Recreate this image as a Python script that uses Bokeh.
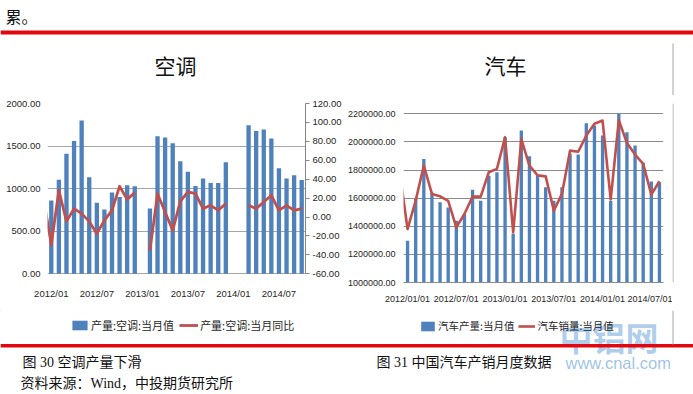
import numpy as np
from bokeh.plotting import figure
from bokeh.models import Range1d, LinearAxis, FixedTicker, NumeralTickFormatter, Legend, LegendItem
from bokeh.layouts import column, row
from bokeh.core.properties import value
from bokeh.embed import file_html
from bokeh.resources import INLINE

# ---------------------------------------------------------------- data
# 空调 chart: months 2012/01 .. 2014/10
ac_months = [f"{y}/{m:02d}" for y in (2012, 2013, 2014) for m in range(1, 13)][:34]
ac_tick_labels = ["2012/01", "2012/07", "2013/01", "2013/07", "2014/01", "2014/07"]
ac_prod = [860, 1105, 1410, 1560, 1800, 1133, 835, 756, 956, 901, 1039, 1027,
           None, 768, 1615, 1600, 1533, 1321, 1200, 1031, 1118, 1066, 1066, 1309,
           None, None, 1745, 1678, 1694, 1588, 1239, 1118, 1157, 1101]
ac_yoy_prev = 19.0   # 2011/12 value, only its segment into the plot is visible
ac_yoy = [-29.3, 28.3, -4.6, 8.9, 3.6, -4.6, -17.6, -3.5, 7.1, 32.5, 18.7, 25.8,
          None, -35.3, 24.7, 5.3, -14.0, 16.6, 26.5, 24.7, 8.9, 12.4, 7.1, 14.2,
          None, None, 12.4, 8.9, 15.9, 23.0, 7.1, 12.4, 7.1, 8.9]
ac_left_ticks = [0, 500, 1000, 1500, 2000]
ac_right_ticks = [-60, -40, -20, 0, 20, 40, 60, 80, 100, 120]

# 汽车 chart: months 2012/01 .. 2014/08
car_months = [f"{y}/{m:02d}/01" for y in (2012, 2013, 2014) for m in range(1, 13)][:32]
car_tick_labels = ["2012/01/01", "2012/07/01", "2013/01/01", "2013/07/01", "2014/01/01", "2014/07/01"]
car_prod = [1297000, 1594000, 1879000, 1640000, 1570000, 1534000, 1440000, 1487000,
            1660000, 1582000, 1760000, 1784000,
            2033000, 1347000, 2081000, 1898000, 1760000, 1677000, 1582000, 1677000,
            1915000, 1910000, 2133000, 2117000,
            2045000, 1580000, 2200000, 2069000, 1974000, 1852000, 1718000, 1713000]
car_sales_prev = 1800000   # 2011/12 value, only its segment into the plot is visible
car_sales = [1380000, 1582000, 1832000, 1630000, 1613000, 1580000, 1392000, 1487000,
             1611000, 1611000, 1784000, 1808000,
             2033000, 1356000, 2020000, 1832000, 1762000, 1755000, 1511000, 1630000,
             1938000, 1930000, 2045000, 2129000,
             2152000, 1590000, 2155000, 1992000, 1910000, 1844000, 1625000, 1720000]
car_ticks = [1000000, 1200000, 1400000, 1600000, 1800000, 2000000, 2200000]

# ---------------------------------------------------------------- styles
BLUE = "#4F81BD"
RED = "#C0504D"
PAGE_RED = "#E2070F"
TICK_FONT = "Liberation Sans"
CJK = "Noto Sans CJK SC"
CAP_FONT = "Liberation Serif, Noto Sans CJK SC"
TXT = "#262626"
WM = "#8DB8E2"
BORDER = "#A6A6A6"


def nan_list(vals):
    return np.array([np.nan if v is None else v for v in vals], dtype=float)


def clean(p):
    p.outline_line_color = None
    p.background_fill_color = "white"
    p.border_fill_color = "white"


def style_axis(ax, size="9.5px"):
    ax.major_label_text_font = TICK_FONT
    ax.major_label_text_font_size = size
    ax.major_label_text_color = TXT
    ax.minor_tick_line_color = None
    ax.major_tick_in = 0


PAGE_W = 693
ROW_TOP, ROW_BOT = 95, 310

# ---------------------------------------------------------------- header (page y 0..95)
head = figure(width=PAGE_W, height=ROW_TOP, x_range=Range1d(0, 693), y_range=Range1d(ROW_TOP, 0),
              x_axis_location=None, y_axis_location=None, min_border=0,
              output_backend="svg", toolbar_location=None)
clean(head)
head.grid.visible = False
head.text(x=[5], y=[3], text=["累。"], text_font=value(CJK), text_font_size=value("16px"),
          text_baseline="top", text_align="left", text_color="#111111")
head.quad(left=[0], right=[693], top=[30.0], bottom=[34.0], color=PAGE_RED, line_color=None)
head.text(x=[175, 505], y=[64, 64.5], text=["空调", "汽车"], text_font=value(CJK),
          text_font_size=value("21px"), text_baseline="middle", text_align="center",
          text_color="#111111")
head.segment(x0=[672.5], y0=[43], x1=[672.5], y1=[ROW_TOP], line_color=BORDER, line_width=1)

# both chart figures share identical top/bottom borders (frame page y 103..282)
CH_H = ROW_BOT - ROW_TOP
B_TOP = 8
B_BOT = 28

# ---------------------------------------------------------------- 空调 chart
pL = figure(width=344, height=CH_H, x_range=Range1d(-0.5, len(ac_months) - 0.5),
            y_range=Range1d(-102, 2000), min_border_left=47, min_border_right=39,
            min_border_top=B_TOP, min_border_bottom=B_BOT,
            output_backend="svg", toolbar_location=None)
clean(pL)
pL.extra_y_ranges = {"pct": Range1d(-69.2, 120)}
pL.xgrid.visible = False
pL.ygrid.grid_line_color = "#A6A6A6"
pL.ygrid.ticker = FixedTicker(ticks=ac_left_ticks)

yl = pL.yaxis[0]
yl.ticker = FixedTicker(ticks=ac_left_ticks)
yl.formatter = NumeralTickFormatter(format="0.00")
style_axis(yl)
yl.axis_line_color = None
yl.major_tick_line_color = None
yl.major_tick_out = 0
yl.major_label_standoff = 7

xl = pL.xaxis[0]
ac_tick_pos = [ac_months.index(t) for t in ac_tick_labels]
xl.ticker = FixedTicker(ticks=ac_tick_pos)
xl.major_label_overrides = {i: t for i, t in zip(ac_tick_pos, ac_tick_labels)}
style_axis(xl)
xl.axis_line_color = None
xl.major_tick_line_color = None
xl.major_tick_out = 0
xl.major_label_standoff = 5

yr = LinearAxis(y_range_name="pct", ticker=FixedTicker(ticks=ac_right_ticks),
                formatter=NumeralTickFormatter(format="0.00"), bounds=(-60, 120))
style_axis(yr)
yr.axis_line_color = "#868686"
yr.major_tick_line_color = "#868686"
yr.major_tick_out = 4
yr.major_label_standoff = 3
pL.add_layout(yr, "right")

ac_bar_x = [i for i, v in enumerate(ac_prod) if v is not None]
ac_bar_top = [v for v in ac_prod if v is not None]
pL.vbar(x=ac_bar_x, top=ac_bar_top, bottom=0, width=0.57, fill_color=BLUE, line_color=None)
ac_line_x = np.arange(-1, len(ac_months))
ac_line_y = np.concatenate([[ac_yoy_prev], nan_list(ac_yoy)])
pL.line(x=ac_line_x, y=ac_line_y, y_range_name="pct", line_color=RED, line_width=2.8,
        line_join="round")

# ---------------------------------------------------------------- 汽车 chart
pR = figure(width=328, height=CH_H, x_range=Range1d(-0.5, len(car_months) - 0.5),
            y_range=Range1d(1000000, 2273000), min_border_left=56, min_border_right=9,
            min_border_top=B_TOP, min_border_bottom=B_BOT,
            output_backend="svg", toolbar_location=None)
clean(pR)
pR.xgrid.visible = False
pR.ygrid.grid_line_color = "#8C8C8C"
pR.ygrid.ticker = FixedTicker(ticks=car_ticks)

ya = pR.yaxis[0]
ya.ticker = FixedTicker(ticks=car_ticks)
ya.formatter = NumeralTickFormatter(format="0.00")
style_axis(ya, "9px")
ya.axis_line_color = None
ya.major_tick_line_color = None
ya.major_tick_out = 0
ya.major_label_standoff = 8

xa = pR.xaxis[0]
car_tick_pos = [car_months.index(t) for t in car_tick_labels]
xa.ticker = FixedTicker(ticks=car_tick_pos)
xa.major_label_overrides = {i: t for i, t in zip(car_tick_pos, car_tick_labels)}
style_axis(xa, "9px")
xa.axis_line_color = "#8C8C8C"
xa.major_tick_line_color = None
xa.major_tick_out = 0
xa.major_label_standoff = 11

pR.vbar(x=list(range(len(car_prod))), top=car_prod, bottom=1000000, width=0.41,
        fill_color=BLUE, line_color=None)
car_line_x = np.arange(-1, len(car_months))
car_line_y = np.array([car_sales_prev] + car_sales, dtype=float)
pR.line(x=car_line_x, y=car_line_y, line_color=RED, line_width=2.6, line_join="round")

# ---------------------------------------------------------------- right border sliver
side = figure(width=21, height=CH_H, x_range=Range1d(672, 693), y_range=Range1d(ROW_BOT, ROW_TOP),
              x_axis_location=None, y_axis_location=None, min_border=0,
              output_backend="svg", toolbar_location=None)
clean(side)
side.grid.visible = False
side.segment(x0=[672.5], y0=[ROW_TOP], x1=[672.5], y1=[ROW_BOT], line_color=BORDER, line_width=1)

# ---------------------------------------------------------------- footer (page y 310..394)
foot = figure(width=PAGE_W, height=394 - ROW_BOT, x_range=Range1d(0, 693),
              y_range=Range1d(394, ROW_BOT),
              x_axis_location=None, y_axis_location=None, min_border=0,
              output_backend="svg", toolbar_location=None)
clean(foot)
foot.grid.visible = False

# watermark
foot.text(x=[559], y=[336], text=["中铝网"], text_font=value(CJK), text_font_size=value("33px"),
          text_font_style="bold", text_baseline="middle", text_align="left",
          text_color=WM, text_alpha=0.7)
foot.text(x=[565], y=[362], text=["www.cnal.com"], text_font=value(TICK_FONT),
          text_font_size=value("16.5px"), text_baseline="middle", text_align="left",
          text_color=WM, text_alpha=0.85)

foot.quad(left=[0], right=[693], top=[343.5], bottom=[347.0], color=PAGE_RED, line_color=None)
foot.segment(x0=[672.5], y0=[ROW_BOT], x1=[672.5], y1=[344], line_color=BORDER, line_width=1)

foot.text(x=[22, 376], y=[362, 362], text=["图 30 空调产量下滑", "图 31 中国汽车产销月度数据"],
          text_font=value(CAP_FONT), text_font_size=value("14px"), text_baseline="middle",
          text_align="left", text_color="#111111")
foot.text(x=[20], y=[383], text=["资料来源：Wind，中投期货研究所"],
          text_font=value(CAP_FONT), text_font_size=value("14px"), text_baseline="middle",
          text_align="left", text_color="#111111")

# legend swatches (one hidden point each so that the swatch gets drawn)
lg_bar_l = foot.vbar(x=[-50], top=[300], bottom=[300], width=1, fill_color=BLUE, line_color=None)
lg_line_l = foot.line(x=[-60, -50], y=[300, 300], line_color=RED, line_width=2.8)
lg_bar_r = foot.vbar(x=[-50], top=[300], bottom=[300], width=1, fill_color=BLUE, line_color=None)
lg_line_r = foot.line(x=[-60, -50], y=[300, 300], line_color=RED, line_width=2.6)


def make_legend(items, loc, spacing, glyph_w=19, size="11px"):
    return Legend(items=items, location=loc, orientation="horizontal",
                  glyph_width=glyph_w, glyph_height=12, label_height=12, label_width=10,
                  label_standoff=2, spacing=spacing, padding=0, margin=0,
                  label_text_font=CJK, label_text_font_size=size, label_text_color=TXT,
                  border_line_color=None, background_fill_alpha=0)


foot.add_layout(make_legend([LegendItem(label="产量:空调:当月值", renderers=[lg_bar_l]),
                             LegendItem(label="产量:空调:当月同比", renderers=[lg_line_l])],
                            (70, 61), 5))
foot.add_layout(make_legend([LegendItem(label="汽车产量:当月值", renderers=[lg_bar_r]),
                             LegendItem(label="汽车销量:当月值", renderers=[lg_line_r])],
                            (419, 61), 4, glyph_w=17, size="10.5px"))

layout = column(head, row(pL, pR, side), foot)
open("out.html", "w").write(file_html(layout, INLINE))
